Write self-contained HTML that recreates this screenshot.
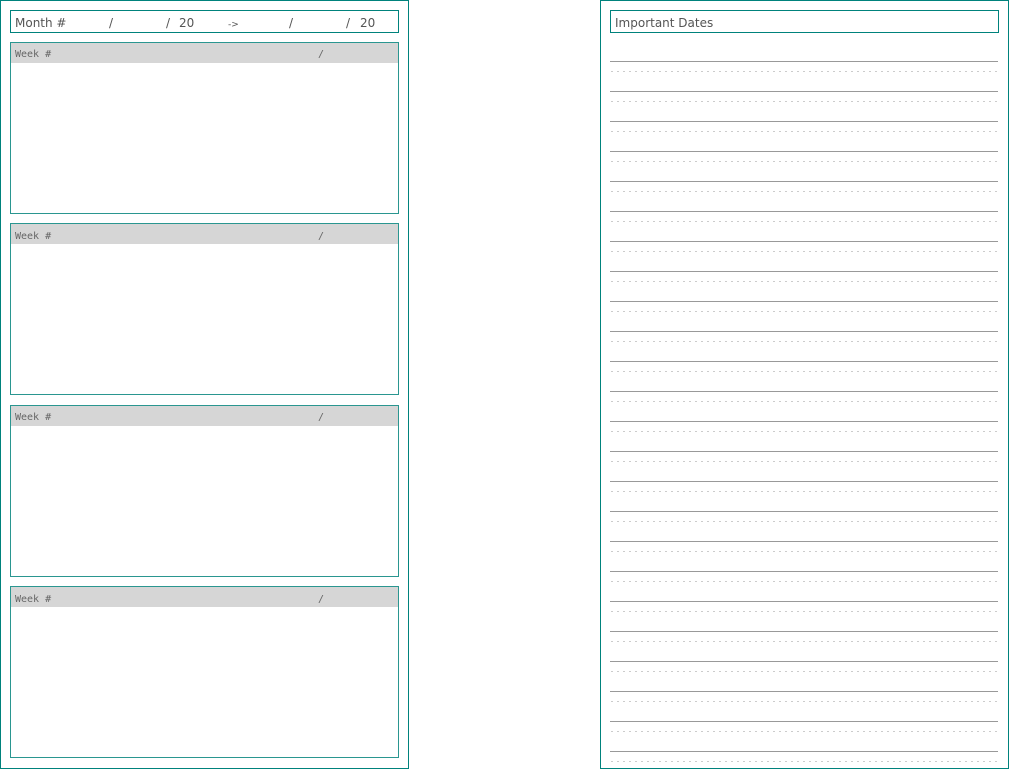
<!DOCTYPE html>
<html><head><meta charset="utf-8"><style>
html,body{margin:0;padding:0;background:#fff;}
svg{display:block}
.t{font-family:"DejaVu Sans","Liberation Sans",sans-serif;font-size:12px;fill:#555}
.w{font-family:"DejaVu Sans Mono","Liberation Mono",monospace;font-size:10px;fill:#666}
</style></head><body>
<svg width="1009" height="769" viewBox="0 0 1009 769" xmlns="http://www.w3.org/2000/svg">
<g fill="none" stroke="#00827c" stroke-width="1">
<rect x="0.5" y="0.5" width="408" height="768"/>
<rect x="600.5" y="0.5" width="408" height="768"/>
<rect x="10.5" y="10.5" width="388" height="22"/>
<rect x="610.5" y="10.5" width="388" height="22"/>
</g>
<text class="t" x="15" y="27">Month #</text>
<text class="t" x="109" y="27">/</text>
<text class="t" x="166" y="27">/</text>
<text class="t" x="179" y="27">20</text>
<text class="t" x="228" y="27" style="font-size:9px">-&gt;</text>
<text class="t" x="289" y="27">/</text>
<text class="t" x="346" y="27">/</text>
<text class="t" x="360" y="27">20</text>
<text class="t" x="615" y="27">Important Dates</text>
<g>
<rect x="11" y="43" width="387" height="20" fill="#d6d6d6"/>
<rect x="10.5" y="42.5" width="388" height="171" fill="none" stroke="#2a9690"/>
<text class="w" x="15" y="57">Week #</text><text class="w" x="318" y="57">/</text>
<rect x="11" y="224" width="387" height="20" fill="#d6d6d6"/>
<rect x="10.5" y="223.5" width="388" height="171" fill="none" stroke="#2a9690"/>
<text class="w" x="15" y="239">Week #</text><text class="w" x="318" y="239">/</text>
<rect x="11" y="406" width="387" height="20" fill="#d6d6d6"/>
<rect x="10.5" y="405.5" width="388" height="171" fill="none" stroke="#2a9690"/>
<text class="w" x="15" y="420">Week #</text><text class="w" x="318" y="420">/</text>
<rect x="11" y="587" width="387" height="20" fill="#d6d6d6"/>
<rect x="10.5" y="586.5" width="388" height="171" fill="none" stroke="#2a9690"/>
<text class="w" x="15" y="602">Week #</text><text class="w" x="318" y="602">/</text>
</g>
<g id="lines"></g>
</svg>
<script>
var g=document.getElementById('lines'),s='';
for(var i=0;i<24;i++){var y=61+i*30;
s+='<line x1="610" x2="998" y1="'+(y+0.5)+'" y2="'+(y+0.5)+'" stroke="#999" stroke-width="1"/>';
s+='<line x1="611" x2="998" y1="'+(y+10.5)+'" y2="'+(y+10.5)+'" stroke="#ccc" stroke-width="1" stroke-dasharray="2 4"/>';}
g.innerHTML=s;
</script>
</body></html>
